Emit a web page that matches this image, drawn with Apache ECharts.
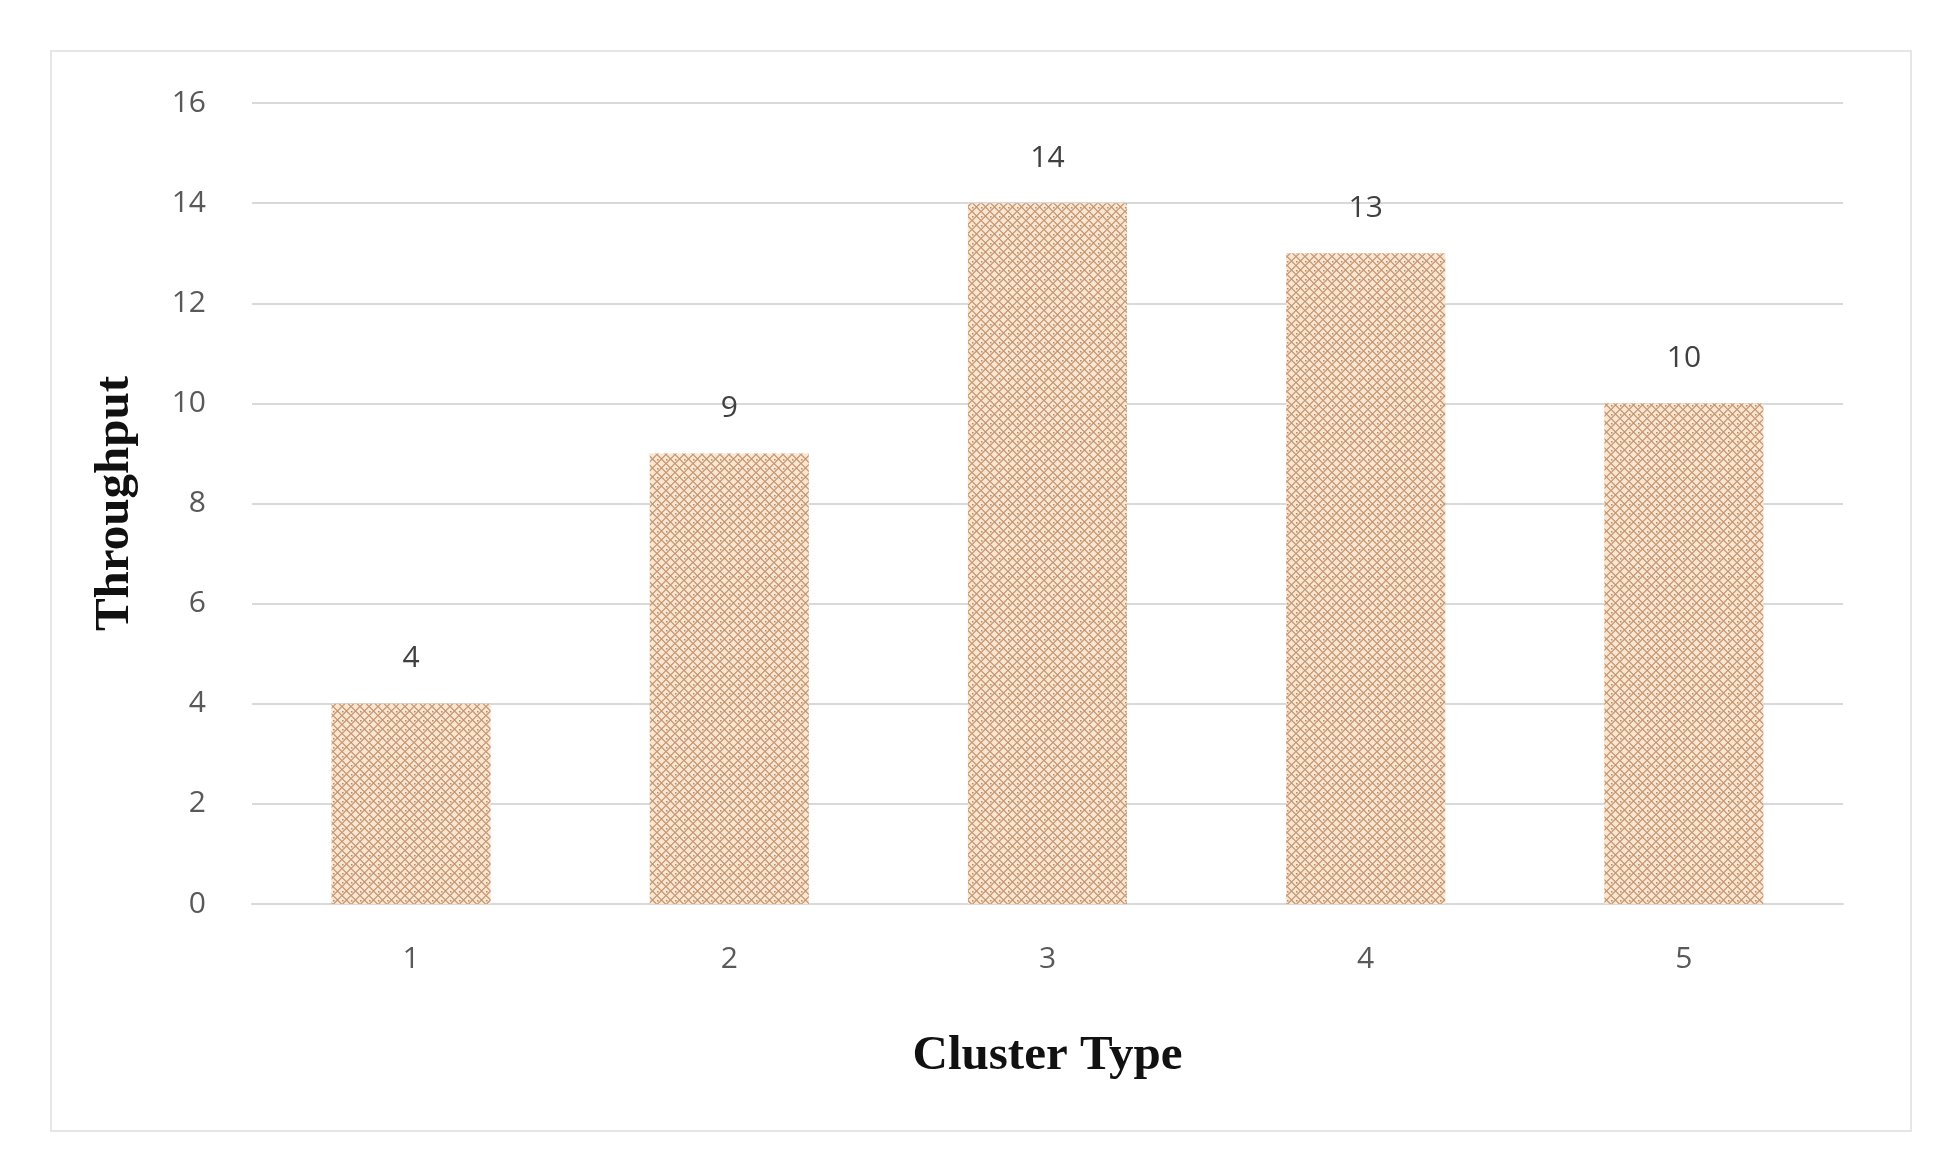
<!DOCTYPE html><html><head><meta charset="utf-8"><script src="https://cdn.jsdelivr.net/npm/echarts@6/dist/echarts.min.js"></script>
<style>body{margin:0;background:#fff}#c{width:1935px;height:1175px}#b{position:absolute;left:50px;top:50px;width:1862px;height:1082px;border:2px solid #e6e6e6;box-sizing:border-box}</style></head><body><div id="b"></div><div id="c" style="position:absolute;left:0;top:0"></div><script>
const categories=['1','2','3','4','5'];
const values=[4,9,14,13,10];
const yTicks=[0,2,4,6,8,10,12,14,16];
const pc=document.createElement('canvas');pc.width=9;pc.height=9;
const g=pc.getContext('2d');g.fillStyle='#f9e6d2';g.fillRect(0,0,9,9);
g.strokeStyle='#c49670';g.lineWidth=1.2;
g.beginPath();g.moveTo(0,4.5);g.lineTo(4.5,0);g.lineTo(9,4.5);g.lineTo(4.5,9);g.closePath();g.stroke();
g.fillStyle='#b88860';g.fillRect(0,0,1.5,1.5);
const ch=echarts.init(document.getElementById('c'));
ch.setOption({animation:false,
grid:{left:252,right:92,top:103,bottom:271},
xAxis:{type:'category',data:categories,name:'Cluster Type',nameLocation:'middle',nameGap:128,
nameTextStyle:{fontFamily:'Liberation Serif',fontWeight:'bold',fontSize:49,color:'#111'},
axisLine:{lineStyle:{color:'#d9d9d9',width:2}},axisTick:{show:false},
axisLabel:{fontSize:30,color:'#595959',margin:40,fontFamily:'Open Sans'}},
yAxis:{type:'value',min:yTicks[0],max:yTicks[yTicks.length-1],interval:2,name:'Throughput',nameLocation:'middle',nameGap:112,
nameTextStyle:{fontFamily:'Liberation Serif',fontWeight:'bold',fontSize:49,color:'#111'},
axisLabel:{fontSize:30,color:'#595959',margin:46,fontFamily:'Open Sans'},
splitLine:{lineStyle:{color:'#d9d9d9',width:2}}},
series:[{type:'bar',data:values,barWidth:'50%',itemStyle:{color:{image:pc,repeat:'repeat'}},
label:{show:true,position:'top',distance:30,fontSize:30,color:'#404040',fontFamily:'Open Sans'}}]});
</script></body></html>
